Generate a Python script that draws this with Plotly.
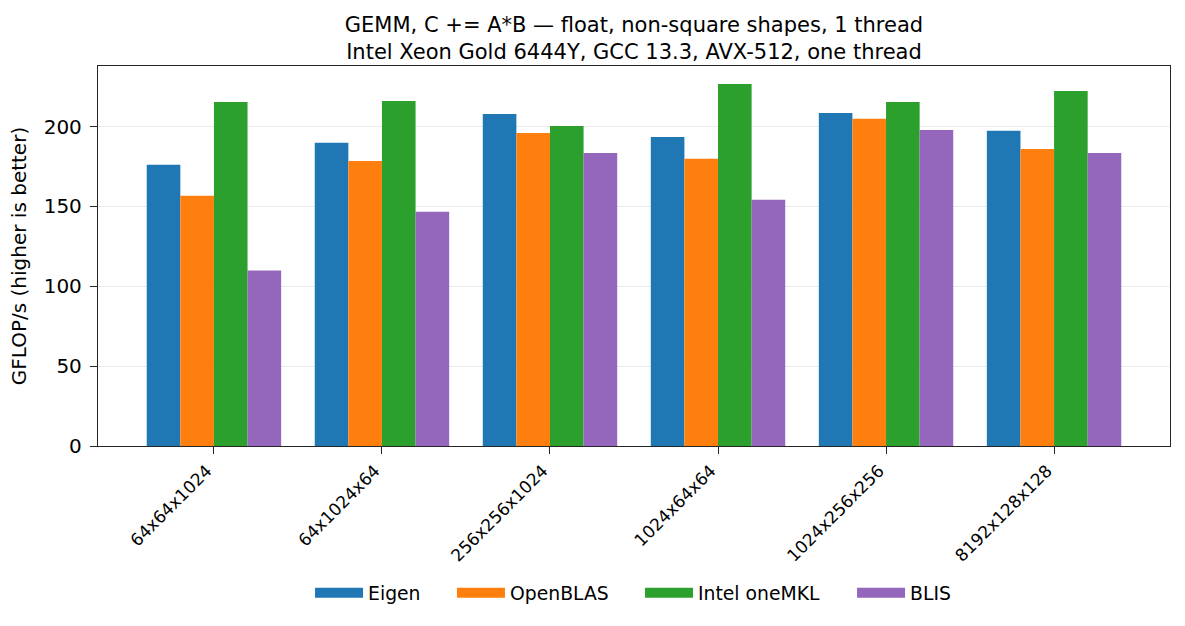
import plotly.graph_objects as go

shapes = ["64x64x1024", "64x1024x64", "256x256x1024", "1024x64x64", "1024x256x256", "8192x128x128"]
eigen = [176.0, 189.8, 207.9, 193.5, 208.5, 197.3]
openblas = [156.7, 178.5, 196.0, 179.8, 204.8, 186.0]
onemkl = [215.4, 216.0, 200.4, 226.7, 215.4, 222.3]
blis = [109.8, 146.7, 183.5, 154.2, 197.9, 183.5]

series = [
    ("Eigen", eigen, "#1f77b4"),
    ("OpenBLAS", openblas, "#ff7f0e"),
    ("Intel oneMKL", onemkl, "#2ca02c"),
    ("BLIS", blis, "#9467bd"),
]
legend_ids = ["legend", "legend2", "legend3", "legend4"]
# left edge of each legend entry, as a fraction of the plot width
legend_x = [0.1978, 0.3302, 0.5056, 0.7034]

fig = go.Figure()
for name, vals, col in series:
    fig.add_trace(go.Bar(x=shapes, y=vals, name=name, legendgroup=name, showlegend=False,
                         marker=dict(color=col, line=dict(width=0))))
for (name, vals, col), lid in zip(series, legend_ids):
    # legend proxy: a thick line segment gives a wide rectangular patch
    fig.add_trace(go.Scatter(x=[None], y=[None], mode="lines", name=name, legendgroup=name,
                             legend=lid, line=dict(color=col, width=14), showlegend=True,
                             hoverinfo="skip"))

font = "DejaVu Sans, sans-serif"
leg_common = dict(orientation="h", xanchor="left", y=-0.387, yanchor="middle",
                  font=dict(size=18.8, family=font), itemwidth=48,
                  bgcolor="rgba(0,0,0,0)", borderwidth=0)
fig.update_layout(
    width=1185, height=626,
    margin=dict(l=98, r=15, t=66, b=180),
    paper_bgcolor="white", plot_bgcolor="white",
    font=dict(family=font, color="black", size=20),
    barmode="group", bargap=0.2, bargroupgap=0,
    title=dict(
        text="GEMM, C += A*B — float, non-square shapes, 1 thread<br>Intel Xeon Gold 6444Y, GCC 13.3, AVX-512, one thread",
        x=0.535, xanchor="center", y=1 - 32 / 626, yanchor="top",
        yref="container", font=dict(size=21, family=font),
    ),
    showlegend=True,
)
for lid, lx in zip(legend_ids, legend_x):
    fig.update_layout({lid: dict(leg_common, x=lx)})

fig.update_xaxes(
    range=[-0.69, 5.69], showline=True, linecolor="#262626", linewidth=1.3, mirror=True,
    ticks="outside", ticklen=7, tickcolor="#262626", tickangle=-45, ticklabelshift=-7,
    tickfont=dict(size=17, family=font), showgrid=False,
)
fig.update_yaxes(
    range=[0, 237.9], showline=True, linecolor="#262626", linewidth=1.3, mirror=True,
    ticks="outside", ticklen=7, tickcolor="#262626", tickvals=[0, 50, 100, 150, 200],
    ticklabelstandoff=4,
    tickfont=dict(size=20, family=font), showgrid=True, gridcolor="rgba(176,176,176,0.25)",
    gridwidth=1.3, layer="above traces", zeroline=False,
    title=dict(text="GFLOP/s (higher is better)", font=dict(size=20, family=font), standoff=11),
)
fig.write_html("out.html", config={"displayModeBar": False},
               post_script="document.body.style.margin='0';document.body.style.padding='0';")
